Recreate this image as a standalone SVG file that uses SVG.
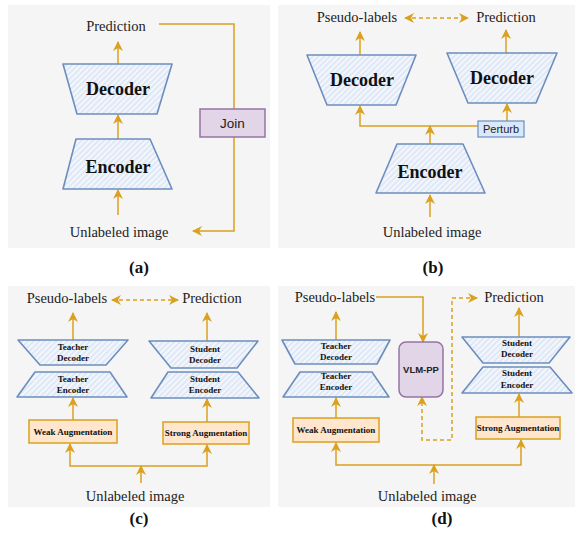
<svg xmlns="http://www.w3.org/2000/svg" width="582" height="536" viewBox="0 0 582 536">
<style>
.bg{fill:#f5f5f5}
.t{font-family:"Liberation Serif",serif;font-size:14.5px;fill:#222;text-anchor:middle}
.tb{font-family:"Liberation Serif",serif;font-weight:bold;fill:#111;text-anchor:middle}
.big{font-size:18px}
.sm{font-size:9px}
.lab{font-size:17px}
.sans{font-family:"Liberation Sans",Arial,sans-serif;fill:#222;text-anchor:middle}
.trap{fill:url(#hatch);stroke:#6c8ebf;stroke-width:1.6;stroke-linejoin:round}
.c{fill:none;stroke:#daa01e;stroke-width:1.5}
.a{marker-end:url(#ah)}
.d{stroke-dasharray:4 3}
.aug{fill:#ffe6cc;stroke:#daa01e;stroke-width:1.5}
.pur{fill:#e1d5e7;stroke:#9673a6;stroke-width:1.5}
.blu{fill:#dae8fc;stroke:#6c8ebf;stroke-width:1.2}
</style>
<defs>
<pattern id="hatch" patternUnits="userSpaceOnUse" width="4" height="4" patternTransform="rotate(45)">
<rect width="4" height="4" fill="#f3f6fb"/>
<line x1="1" y1="0" x2="1" y2="4" stroke="#d2e0f3" stroke-width="1.2"/>
</pattern>
<marker id="ah" viewBox="0 0 10 10" refX="9" refY="5" markerWidth="10" markerHeight="10" markerUnits="userSpaceOnUse" orient="auto-start-reverse">
<path d="M0,0 L10,5 L0,10 L3,5 z" fill="#daa01e"/>
</marker>
</defs>

<g id="panels">
<rect class="bg" x="8" y="5" width="262" height="243"/>
<rect class="bg" x="278" y="5" width="297" height="243"/>
<rect class="bg" x="8" y="286" width="262" height="221"/>
<rect class="bg" x="278" y="286" width="297" height="221"/>
</g>

<g id="connectors">
<!-- (a) -->
<path class="c a" d="M118,64 V42"/>
<path class="c a" d="M118,139 V115"/>
<path class="c a" d="M118,215 V190"/>
<path class="c a" d="M159,24 H234 V231 H193"/>
<!-- (b) -->
<path class="c a d" d="M405,18 H468" marker-start="url(#ah)"/>
<path class="c a" d="M360,55 V32"/>
<path class="c a" d="M506,53 V30"/>
<path class="c a" d="M478,126 H360 V106"/>
<path class="c a" d="M430,144 V126"/>
<path class="c a" d="M507,121 V104"/>
<path class="c a" d="M430,217 V195"/>
<!-- (c) -->
<path class="c a d" d="M112,300 H178" marker-start="url(#ah)"/>
<path class="c a" d="M73,340 V313"/>
<path class="c a" d="M207,341 V313"/>
<path class="c a" d="M73,420 V398"/>
<path class="c a" d="M207,422 V399"/>
<path class="c a" d="M141,466 H70 V444"/>
<path class="c a" d="M141,466 H207 V445"/>
<path class="c a" d="M141,483 V466"/>
<!-- (d) -->
<path class="c a" d="M376,297 H423 V342"/>
<path class="c a d" d="M477,298 H452 V440 H422 V397" marker-start="url(#ah)"/>
<path class="c a" d="M336,340 V312"/>
<path class="c a" d="M519,337 V308"/>
<path class="c a" d="M336,418 V398"/>
<path class="c a" d="M519,417 V394"/>
<path class="c a" d="M434,465 H336 V443"/>
<path class="c a" d="M434,465 H521 V440"/>
<path class="c a" d="M434,484 V465"/>
</g>

<g id="panel-a">
<text class="t" x="116" y="31">Prediction</text>
<g id="a-decoder"><polygon class="trap" points="63,64 172,64 157,114 77,114"/><text class="tb big" x="118" y="95">Decoder</text></g>
<g id="a-encoder"><polygon class="trap" points="76,139 150,139 172,189 63,189"/><text class="tb big" x="118" y="173">Encoder</text></g>
<g id="a-join"><rect class="pur" x="200" y="109" width="65" height="28"/><text class="sans" x="232.5" y="128" font-size="13.5">Join</text></g>
<text class="t" x="119" y="237">Unlabeled image</text>
<text class="tb lab" x="139" y="273">(a)</text>
</g>

<g id="panel-b">
<text class="t" x="357" y="22">Pseudo-labels</text>
<text class="t" x="506" y="22">Prediction</text>
<g id="b-decoder1"><polygon class="trap" points="307,55 416,55 396,105 327,105"/><text class="tb big" x="362" y="86">Decoder</text></g>
<g id="b-decoder2"><polygon class="trap" points="447,53 557,53 536,103 468,103"/><text class="tb big" x="502" y="84">Decoder</text></g>
<g id="b-perturb"><rect class="blu" x="478" y="121" width="46" height="16"/><text class="sans" x="501" y="133" font-size="11">Perturb</text></g>
<g id="b-encoder"><polygon class="trap" points="397,144 463,144 485,193 376,193"/><text class="tb big" x="430" y="178">Encoder</text></g>
<text class="t" x="432" y="237">Unlabeled image</text>
<text class="tb lab" x="433" y="273">(b)</text>
</g>

<g id="panel-c">
<text class="t" x="67" y="303">Pseudo-labels</text>
<text class="t" x="212" y="303">Prediction</text>
<g id="c-tdec"><polygon class="trap" points="18,340 128,340 106,365 40,365"/><text class="tb sm" x="73" y="350">Teacher</text><text class="tb sm" x="73" y="361">Decoder</text></g>
<g id="c-tenc"><polygon class="trap" points="35,372 110,372 127,397 17,397"/><text class="tb sm" x="73" y="382">Teacher</text><text class="tb sm" x="73" y="393">Encoder</text></g>
<g id="c-sdec"><polygon class="trap" points="149,341 258,341 237,368 171,368"/><text class="tb sm" x="205" y="352">Student</text><text class="tb sm" x="205" y="363">Decoder</text></g>
<g id="c-senc"><polygon class="trap" points="168,372 238,372 259,398 151,398"/><text class="tb sm" x="205" y="382">Student</text><text class="tb sm" x="205" y="393">Encoder</text></g>
<g id="c-weak"><rect class="aug" x="29" y="420" width="88" height="23"/><text class="tb sm" x="73" y="435">Weak Augmentation</text></g>
<g id="c-strong"><rect class="aug" x="163" y="422" width="86" height="22"/><text class="tb sm" x="206" y="436">Strong Augmentation</text></g>
<text class="t" x="135" y="501">Unlabeled image</text>
<text class="tb lab" x="139" y="524">(c)</text>
</g>

<g id="panel-d">
<text class="t" x="335" y="302">Pseudo-labels</text>
<text class="t" x="514" y="302">Prediction</text>
<g id="d-tdec"><polygon class="trap" points="282,340 390,340 377,364 295,364"/><text class="tb sm" x="336" y="349">Teacher</text><text class="tb sm" x="336" y="360">Decoder</text></g>
<g id="d-tenc"><polygon class="trap" points="300,372 372,372 389,397 283,397"/><text class="tb sm" x="336" y="379">Teacher</text><text class="tb sm" x="336" y="390">Encoder</text></g>
<g id="d-vlm"><rect class="pur" x="399" y="342" width="44" height="55" rx="7"/><text class="sans" x="421" y="373" font-size="9.5" font-weight="bold">VLM-PP</text></g>
<g id="d-sdec"><polygon class="trap" points="462,337 570,337 549,363 483,363"/><text class="tb sm" x="517" y="346">Student</text><text class="tb sm" x="517" y="357">Decoder</text></g>
<g id="d-senc"><polygon class="trap" points="483,367 550,367 572,393 462,393"/><text class="tb sm" x="517" y="376">Student</text><text class="tb sm" x="517" y="388">Encoder</text></g>
<g id="d-weak"><rect class="aug" x="293" y="418" width="86" height="24"/><text class="tb sm" x="336" y="433">Weak Augmentation</text></g>
<g id="d-strong"><rect class="aug" x="476" y="417" width="84" height="22"/><text class="tb sm" x="518" y="431">Strong Augmentation</text></g>
<text class="t" x="427" y="501">Unlabeled image</text>
<text class="tb lab" x="442" y="524">(d)</text>
</g>
</svg>
